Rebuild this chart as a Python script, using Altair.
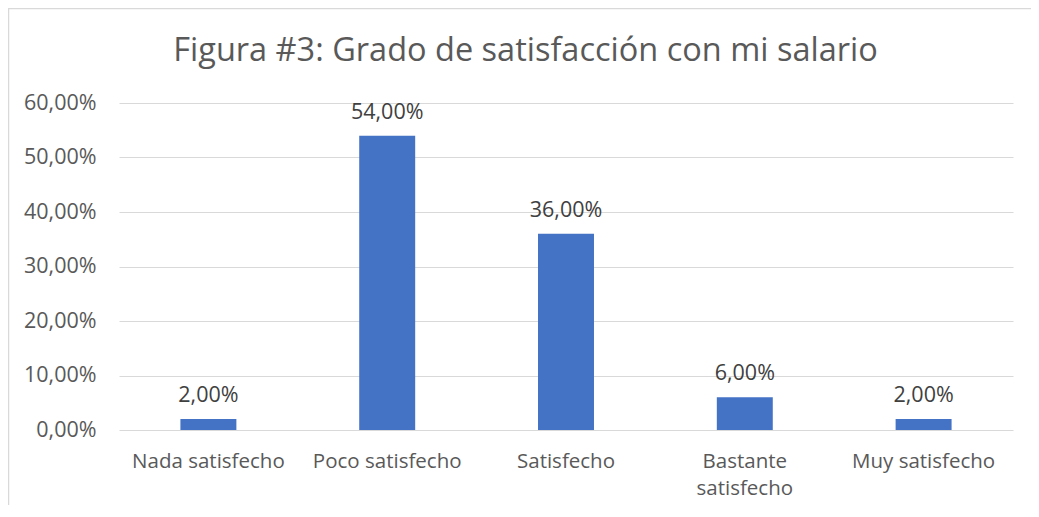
import altair as alt
import pandas as pd

categories = ["Nada satisfecho", "Poco satisfecho", "Satisfecho", "Bastante satisfecho", "Muy satisfecho"]
values = [0.02, 0.54, 0.36, 0.06, 0.02]
y_ticks = [0.0, 0.1, 0.2, 0.3, 0.4, 0.5, 0.6]
title_text = "Figura #3: Grado de satisfacción con mi salario"

df = pd.DataFrame({"categoria": categories, "valor": values})

FONT = "Open Sans"
pct_expr = "replace(format(datum.value, '.2%'), '.', ',')"

base = alt.Chart(df)

bars = base.mark_bar(color="#4472C4").encode(
    x=alt.X(
        "categoria:N",
        sort=categories,
        title=None,
        scale=alt.Scale(paddingInner=0.687, paddingOuter=0.3435),
        axis=alt.Axis(
            labelAngle=0,
            domain=False,
            ticks=False,
            grid=False,
            labelPadding=21,
            labelFontSize=20.5,
            labelColor="#595959",
            labelFont=FONT,
            labelLineHeight=27,
            labelExpr="datum.label == 'Bastante satisfecho' ? ['Bastante', 'satisfecho'] : datum.label",
        ),
    ),
    y=alt.Y(
        "valor:Q",
        title=None,
        scale=alt.Scale(domain=[0, 0.6], nice=False),
        axis=alt.Axis(
            values=y_ticks,
            domain=False,
            ticks=False,
            grid=True,
            gridColor="#d9d9d9",
            gridWidth=1.2,
            labelPadding=23,
            labelFontSize=21.5,
            labelColor="#595959",
            labelFont=FONT,
            labelExpr=pct_expr,
        ),
    ),
)

labels = base.transform_calculate(
    etiqueta="replace(format(datum.valor, '.2%'), '.', ',')"
).mark_text(
    baseline="alphabetic", dy=-17, fontSize=21.5, color="#404040", font=FONT
).encode(
    x=alt.X("categoria:N", sort=categories),
    y="valor:Q",
    text="etiqueta:N",
)

title = alt.Chart(pd.DataFrame({"t": [title_text]})).mark_text(
    font=FONT, fontSize=32.5, color="#595959", align="center", baseline="alphabetic"
).encode(
    x=alt.value(406.5), y=alt.value(-42), text="t:N"
)

border_left = alt.Chart(pd.DataFrame({"a": [0]})).mark_rule(color="#d9d9d9", strokeWidth=1.5).encode(
    x=alt.value(-110.5), y=alt.value(-95), y2=alt.value(420)
)
border_top = alt.Chart(pd.DataFrame({"a": [0]})).mark_rule(color="#d9d9d9", strokeWidth=1.5).encode(
    x=alt.value(-111), x2=alt.value(920), y=alt.value(-94.5)
)

chart = alt.layer(border_left, border_top, bars, labels, title).properties(
    width=894,
    height=327,
    padding={"left": 111, "top": 95, "right": 18, "bottom": 75},
    autosize=alt.AutoSizeParams(type="none"),
    background="white",
).configure_view(strokeWidth=0, stroke="transparent")

chart.save("out.html", embed_options={"renderer": "svg", "actions": False})
